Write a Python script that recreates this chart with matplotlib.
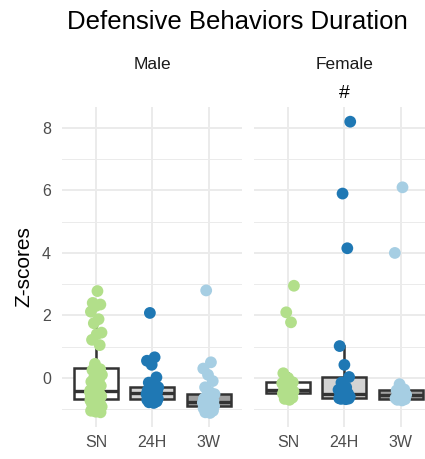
import numpy as np
import matplotlib
matplotlib.use('Agg')
import matplotlib.pyplot as plt

plt.rcParams['font.family'] = ['Liberation Sans', 'DejaVu Sans']

groups = ['SN', '24H', '3W']
sexes = ['Male', 'Female']

# z-scores, per sex and group
male_sn = [2.78, 2.4, 2.35, 2.3, 2.12, 1.88, 1.75, 1.45, 1.4, 1.22, 1.05, 0.45,
           -0.4, -0.36, -0.3, -0.25, -0.2, -0.12, -0.05, 0.02, 0.1, 0.18, 0.25, 0.28,
           -0.66, -0.64, -0.62, -0.6, -0.58, -0.55, -0.53, -0.5, -0.48, -0.46, -0.44, -0.43,
           -1.1, -1.08, -1.05, -1.0, -0.95, -0.92, -0.88, -0.85, -0.8, -0.76, -0.72, -0.69]
male_24h = [-0.8, -0.78, -0.75, -0.72, -0.7, -0.69, -0.68, -0.66, -0.62, -0.6,
            -0.57, -0.55, -0.52, -0.49, -0.47, -0.45, -0.42, -0.4, -0.36, -0.33,
            -0.3, -0.25, -0.15, 0.02, 0.42, 0.55, 0.66, 2.08]
male_3w = [-1.12, -1.1, -1.05, -1.0, -0.97, -0.94, -0.91, -0.9, -0.88, -0.86,
           -0.83, -0.81, -0.79, -0.78, -0.76, -0.74, -0.7, -0.66, -0.62, -0.56,
           -0.52, -0.45, -0.3, -0.1, 0.1, 0.3, 0.5, 2.8]
female_sn = [-0.7, -0.67, -0.63, -0.58, -0.5, -0.47, -0.45, -0.43, -0.41, -0.39,
             -0.37, -0.2, -0.17, -0.16, -0.15, -0.14, 0.0, 0.15, 1.78, 2.1, 2.95]
female_24h = [-0.68, -0.67, -0.66, -0.65, -0.65, -0.64, -0.62, -0.6, -0.57, -0.53,
              -0.5, -0.45, -0.38, -0.3, -0.15, 0.03, 0.42, 1.02, 4.15, 5.9, 8.2]
female_3w = [-0.72, -0.7, -0.68, -0.67, -0.65, -0.6, -0.56, -0.54, -0.5, -0.4,
             -0.37, -0.2, 4.0, 6.1]

data = {'Male': [male_sn, male_24h, male_3w],
        'Female': [female_sn, female_24h, female_3w]}

point_colors = ['#b2df8a', '#1f78b4', '#a6cee3']
box_fills = ['white', '#d3d3d3', '#a0a0a0']

W, H = 425., 459.
fig = plt.figure(figsize=(4.25, 4.59), dpi=100)
pan_w = 180.2 / W
pan_b = (H - 427) / H
pan_h = 320 / H
ax1 = fig.add_axes([62.2 / W, pan_b, pan_w, pan_h])
ax2 = fig.add_axes([254.2 / W, pan_b, pan_w, pan_h])

for ax, sex in zip([ax1, ax2], sexes):
    vals = data[sex]
    bp = ax.boxplot(vals, positions=[1, 2, 3], widths=0.78, patch_artist=True,
                    showfliers=False, showcaps=False, whis=1.5,
                    boxprops=dict(color='#333333', linewidth=1.8),
                    whiskerprops=dict(color='#333333', linewidth=1.8),
                    medianprops=dict(color='#333333', linewidth=2.4))
    for patch, fc in zip(bp['boxes'], box_fills):
        patch.set_facecolor(fc)
        patch.set_zorder(2)
    for i, v in enumerate(vals):
        # fixed jitter so the points don't pile up
        off = (((np.arange(len(v)) + 1) * 0.618034) % 1 - 0.5) * 0.22
        ax.scatter(i + 1 + off, v, s=72, color=point_colors[i], edgecolors='none', zorder=3)

    ax.set_xlim(0.4, 3.6)
    ax.set_ylim(-1.57, 8.67)
    ax.set_xticks([1, 2, 3])
    ax.set_xticklabels(groups)
    ax.set_yticks([0, 2, 4, 6, 8])
    ax.set_yticks([-1, 1, 3, 5, 7], minor=True)
    ax.set_axisbelow(True)
    ax.grid(which='major', color='#EBEBEB', linewidth=1.4)
    ax.grid(which='minor', axis='y', color='#EBEBEB', linewidth=0.7)
    for s in ax.spines.values():
        s.set_visible(False)
    ax.tick_params(which='both', length=0, labelsize=11.5, colors='#4D4D4D', pad=6)
    ax.tick_params(axis='y', pad=8)
    # facet strip label
    ax.text(0.5, 1 + 42 / 320., sex, transform=ax.transAxes, ha='center', va='center',
            fontsize=12.5, color='#1A1A1A')

ax2.tick_params(axis='y', labelleft=False)
ax1.set_ylabel('Z-scores', fontsize=15, color='black', labelpad=6)
ax2.text(2, 9.09, '#', ha='center', va='center', fontsize=14, clip_on=False)

fig.text(237.5 / W, 1 - 22 / H, 'Defensive Behaviors Duration', ha='center', va='center', fontsize=18.5)

plt.savefig('out.png', dpi=100)
